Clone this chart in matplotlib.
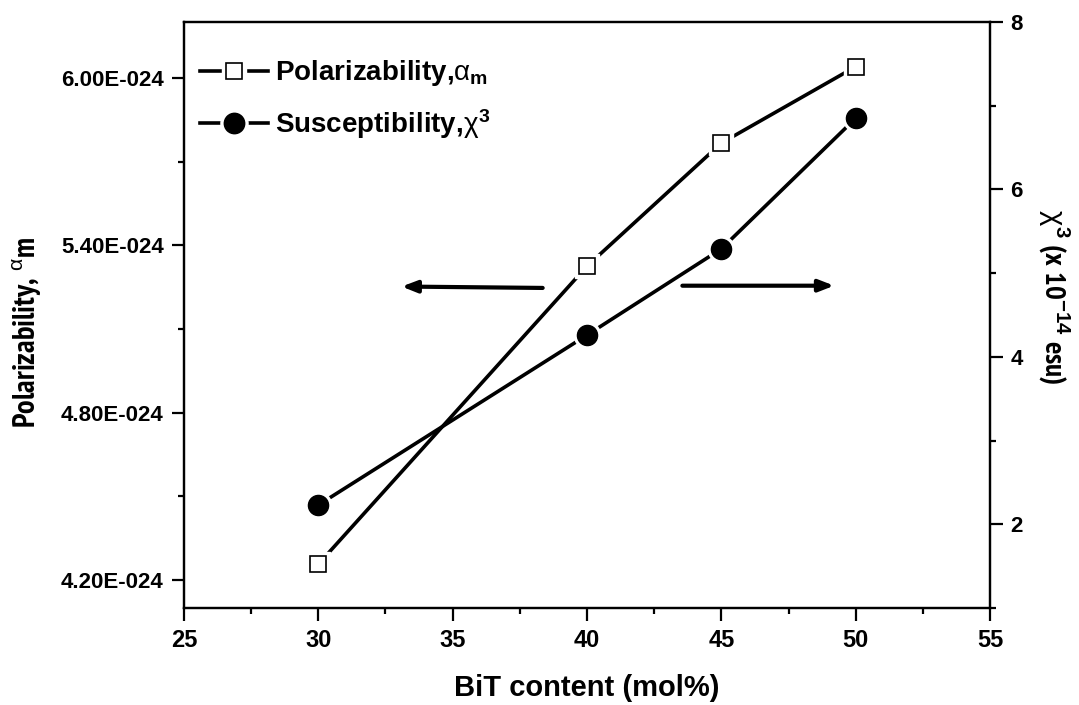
import matplotlib
matplotlib.use("Agg")
import matplotlib.pyplot as plt
from matplotlib.lines import Line2D
from matplotlib.legend_handler import HandlerTuple
from matplotlib.ticker import FuncFormatter, MultipleLocator
from matplotlib import font_manager

# Data
bit_content = [30, 40, 45, 50]
polarizability = [4.257e-24, 5.325e-24, 5.766e-24, 6.04e-24]
susceptibility = [2.23, 4.26, 5.29, 6.85]
x_ticks = [25, 30, 35, 40, 45, 50, 55]
left_ticks = [4.2e-24, 4.8e-24, 5.4e-24, 6.0e-24]
right_ticks = [2, 4, 6, 8]

names = {f.name for f in font_manager.fontManager.ttflist}
narrow = next((n for n in ["Liberation Sans Narrow", "Arial Narrow", "PT Sans Narrow",
                           "Roboto Condensed", "Archivo Narrow", "Barlow Semi Condensed"]
               if n in names), "Liberation Sans")
plt.rcParams["font.family"] = ["Liberation Sans", "DejaVu Sans"]
plt.rcParams["mathtext.fontset"] = "custom"
plt.rcParams["mathtext.rm"] = "Liberation Sans:bold"
plt.rcParams["mathtext.it"] = "Liberation Sans"
plt.rcParams["mathtext.bf"] = "Liberation Sans:bold"

fig = plt.figure(figsize=(10.79, 7.05), dpi=100)
ax = fig.add_axes([184 / 1079, 1 - 608 / 705, 806 / 1079, 586 / 705])
ax2 = ax.twinx()

lw = 2.6
# white halos under markers so the lines stop short of each symbol
ax.plot(bit_content, polarizability, color="black", lw=lw, zorder=2)
ax.plot(bit_content, polarizability, ls="none", marker="s", ms=17,
        mfc="white", mec="white", zorder=3)
ax.plot(bit_content, polarizability, ls="none", marker="s", ms=12,
        mfc="white", mec="black", mew=1.2, zorder=4)

ax2.plot(bit_content, susceptibility, color="black", lw=lw, zorder=2)
ax2.plot(bit_content, susceptibility, ls="none", marker="o", ms=19,
         mfc="white", mec="white", zorder=3)
ax2.plot(bit_content, susceptibility, ls="none", marker="o", ms=14.5,
         mfc="black", mec="black", zorder=4)

ax.set_xlim(25, 55)
ax.set_ylim(4.1e-24, 6.2e-24)
ax2.set_ylim(1, 8)

ax.set_xticks(x_ticks)
ax.xaxis.set_minor_locator(MultipleLocator(2.5))
ax.set_yticks(left_ticks)
ax.yaxis.set_minor_locator(MultipleLocator(0.3e-24))
ax.yaxis.set_major_formatter(FuncFormatter(lambda v, p: f"{v * 1e24:.2f}E-024"))
ax2.set_yticks(right_ticks)
ax2.yaxis.set_minor_locator(MultipleLocator(1))

for a in (ax, ax2):
    for s in a.spines.values():
        s.set_linewidth(1.6)
    a.tick_params(which="major", direction="out", length=9, width=1.6,
                  labelsize=16, pad=5.5)
    a.tick_params(which="minor", direction="out", length=4.5, width=1.6)
ax.tick_params(axis="x", pad=6, labelsize=17)
ax.tick_params(top=False, right=False, which="both")
ax2.tick_params(left=False, which="both")
for lab in ax.get_xticklabels() + ax.get_yticklabels() + ax2.get_yticklabels():
    lab.set_fontweight("bold")

ax.set_xlabel("BiT content (mol%)", fontsize=21, fontweight="bold",
              labelpad=16)
ax.set_ylabel(r"Polarizability, $^{\alpha}$m", fontsize=22,
              fontweight="bold", family=narrow)
ax.yaxis.set_label_coords(-0.1737, 0.471)
ax2.set_ylabel(r"$\chi^{3}$ (x 10$^{\mathrm{-14}}$ esu)", fontsize=21,
               fontweight="bold", family=narrow, rotation=-90, va="bottom")
ax2.yaxis.set_label_coords(1.057, 0.531)

# direction arrows pointing at each series' axis
arrow = dict(arrowstyle="-|>,head_length=0.9,head_width=0.35", lw=3.0,
             color="black", shrinkA=0, shrinkB=0)
ax.annotate("", xy=(33.1, 5.252e-24), xytext=(38.35, 5.247e-24), arrowprops=arrow)
ax2.annotate("", xy=(49.2, 4.85), xytext=(43.55, 4.85), arrowprops=arrow)

# legend with gapped line handles
def handle(marker, ms_in, fc):
    halo = Line2D([], [], color="black", lw=lw, marker=marker, ms=ms_in + 5,
                  mfc="white", mec="white")
    mark = Line2D([], [], ls="none", marker=marker, ms=ms_in, mfc=fc,
                  mec="black", mew=1.2)
    return (halo, mark)

leg = ax.legend([handle("s", 12, "white"), handle("o", 14.5, "black")],
                [r"Polarizability,$\alpha_{\mathrm{m}}$",
                 r"Susceptibility,$\chi^{\mathrm{3}}$"],
                handler_map={tuple: HandlerTuple(ndivide=1)},
                loc="upper left", bbox_to_anchor=(0.02, 0.938),
                frameon=False, handlelength=2.45, handletextpad=0.25,
                labelspacing=0.68, borderaxespad=0, borderpad=0,
                prop={"weight": "bold", "size": 20})

fig.savefig("out.png", dpi=100)
